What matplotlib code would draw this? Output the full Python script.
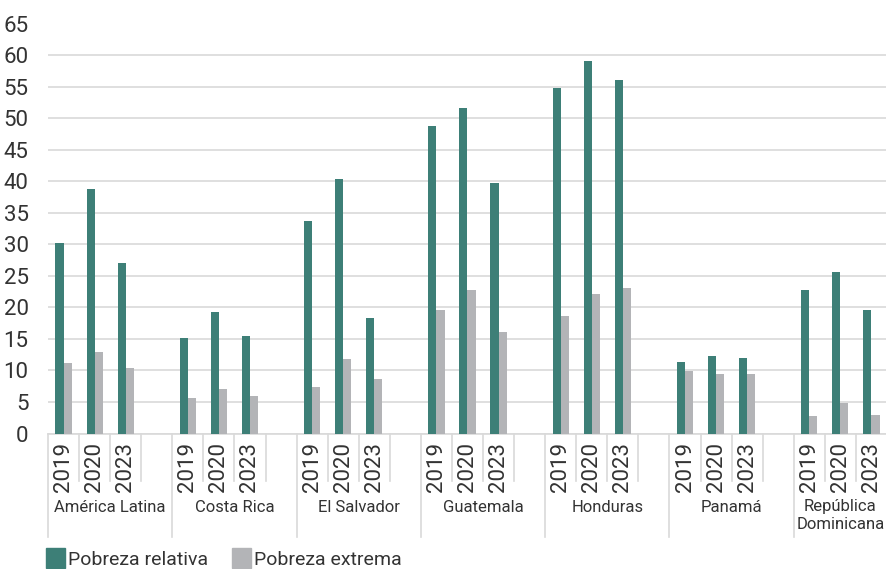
import matplotlib
matplotlib.use('Agg')
import matplotlib.pyplot as plt
from matplotlib.patches import Patch
import numpy as np

plt.rcParams['font.family'] = ['Roboto', 'DejaVu Sans']

groups = ['América Latina', 'Costa Rica', 'El Salvador', 'Guatemala', 'Honduras', 'Panamá', 'República\nDominicana']
years = ['2019', '2020', '2023']
relativa = [30.2, 38.7, 27.1,
            15.1, 19.3, 15.5,
            33.7, 40.3, 18.3,
            48.7, 51.6, 39.7,
            54.7, 59.1, 56.0,
            11.4, 12.3, 12.0,
            22.7, 25.6, 19.6]
extrema = [11.1, 13.0, 10.4,
           5.7, 7.0, 6.0,
           7.3, 11.8, 8.6,
           19.6, 22.7, 16.1,
           18.6, 22.1, 23.0,
           9.9, 9.5, 9.5,
           2.7, 4.8, 2.9]

teal = '#3d7f77'
grey = '#b3b4b7'
txt = '#333333'
line = '#d9d9d9'

W, H = 887, 569
fig = plt.figure(figsize=(W / 100, H / 100), dpi=100)
ax = fig.add_axes([48 / W, 1 - 433.5 / H, (887 - 48) / W, 410 / H])

# each group has 3 years plus one blank slot (except the last group)
pos = []
for g in range(len(groups)):
    for k in range(len(years)):
        pos.append(g * 4 + k)
pos = np.array(pos)
nslots = len(groups) * 4 - 1

w = 0.26
ax.bar(pos - w / 2, relativa, w, color=teal, zorder=3)
ax.bar(pos + w / 2, extrema, w, color=grey, zorder=3)

ax.set_xlim(-0.5, nslots - 0.5)
ax.set_ylim(0, 65)
ax.set_yticks(np.arange(0, 66, 5))
ax.yaxis.grid(True, color=line, lw=1.2, zorder=0)
ax.tick_params(axis='y', length=0, labelsize=16, labelcolor=txt, pad=14)
ax.set_xticks([])
for s in ['left', 'right', 'top']:
    ax.spines[s].set_visible(False)
ax.spines['bottom'].set_color(line)
ax.spines['bottom'].set_linewidth(1.2)

px = 1 / 410  # one pixel in axes-fraction units (vertical)
tr = ax.get_xaxis_transform()

for b in range(nslots + 1):
    x = b - 0.5
    long_ = (b % 4 == 0)
    depth = 103.5 if long_ else 47.5
    ax.plot([x, x], [0, -depth * px], color=line, lw=1.2, transform=tr, clip_on=False)

for i, p in enumerate(pos):
    ax.text(p, -8 * px, years[i % 3], rotation=90, ha='center', va='top',
            fontsize=16, color=txt, transform=tr)

for g, name in enumerate(groups):
    start = g * 4 - 0.5
    end = min(g * 4 + 3.5, nslots - 0.5)
    ax.text((start + end) / 2, -66 * px, name, ha='center', va='top',
            fontsize=12, color=txt, transform=tr, linespacing=1.2)

handles = [Patch(color=teal), Patch(color=grey)]
fig.legend(handles, ['Pobreza relativa', 'Pobreza extrema'], loc='lower left',
           bbox_to_anchor=(38 / W, -0.013), ncol=2, frameon=False, fontsize=14,
           handlelength=1.0, handleheight=1.2, handletextpad=0.15, columnspacing=1.2,
           labelcolor=txt, borderaxespad=0)

fig.savefig('out.png', dpi=100)
